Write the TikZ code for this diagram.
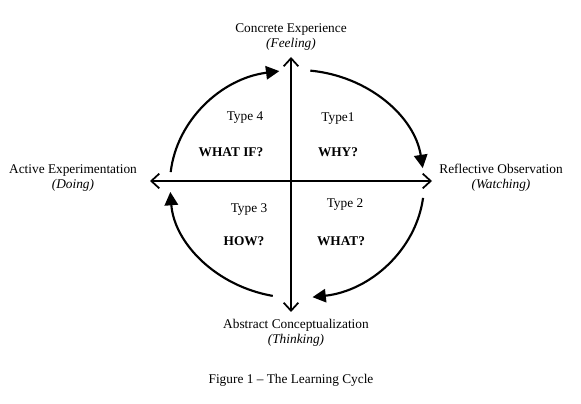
\documentclass[tikz,border=0pt]{standalone}
\usepackage{fontspec}
\setmainfont{Liberation Serif}
\usetikzlibrary{arrows.meta}

\tikzset{
  axisline/.style={line width=1.3pt, -{Straight Barb[length=6pt,width=11pt,line width=1.3pt]}},
  cycarc/.style={line width=1.6pt, -{Triangle[length=10pt,width=10pt]}},
  lbl/.style={align=center, font=\fontsize{10}{11.5}\selectfont, inner sep=0pt},
  quad/.style={font=\fontsize{10}{12}\selectfont, inner sep=0pt},
  ask/.style={font=\fontsize{10}{12}\selectfont\bfseries, inner sep=0pt}
}

\begin{document}
\begin{tikzpicture}[x=0.75pt, y=0.75pt]
    \useasboundingbox (0,0) rectangle (581,403);

    % centre of the cross and of the cycle
    \coordinate (o) at (291,222);
    \coordinate (c) at (297,219);

    % ends of the two axes
    \coordinate (top) at (291,346);
    \coordinate (bot) at (291,91);
    \coordinate (lft) at (150,222);
    \coordinate (rgt) at (432,222);

    % the four stages
    \node[lbl] (ce) at (291,366) {Concrete Experience\\\textit{(Feeling)}};
    \node[lbl] (ro) at (501,225) {Reflective Observation\\\textit{(Watching)}};
    \node[lbl] (ac) at (296,70) {Abstract Conceptualization\\\textit{(Thinking)}};
    \node[lbl] (ae) at (73,225) {Active Experimentation\\\textit{(Doing)}};

    % axes
    \draw[axisline] (o) -- (top);
    \draw[axisline] (o) -- (bot);
    \draw[axisline] (o) -- (lft);
    \draw[axisline] (o) -- (rgt);

    % start points of the arcs
    \path (c) ++(84:95.25pt and 85.5pt) coordinate (a1);
    \path (c) ++(353:95.25pt and 85.5pt) coordinate (a2);
    \path (c) ++(259:95.25pt and 85.5pt) coordinate (a3);
    \path (c) ++(174:95.25pt and 85.5pt) coordinate (a4);

    % the cycle
    \draw[cycarc] (a1) arc[start angle=84, end angle=8, x radius=95.25pt, y radius=85.5pt];
    \draw[cycarc] (a2) arc[start angle=353, end angle=277, x radius=95.25pt, y radius=85.5pt];
    \draw[cycarc] (a3) arc[start angle=259, end angle=184, x radius=95.25pt, y radius=85.5pt];
    \draw[cycarc] (a4) arc[start angle=174, end angle=98, x radius=95.25pt, y radius=85.5pt];

    % the four types
    \node[quad] (t4) at (245,285) {Type 4};
    \node[ask]  (q4) at (231,251) {WHAT IF?};
    \node[quad] (t1) at (338,284) {Type1};
    \node[ask]  (q1) at (338,251) {WHY?};
    \node[quad] (t3) at (249,193) {Type 3};
    \node[ask]  (q3) at (244,162) {HOW?};
    \node[quad] (t2) at (345,198) {Type 2};
    \node[ask]  (q2) at (341,162) {WHAT?};

    % caption
    \node[quad] (cap) at (291,23) {Figure 1 -- The Learning Cycle};

\end{tikzpicture}
\end{document}
